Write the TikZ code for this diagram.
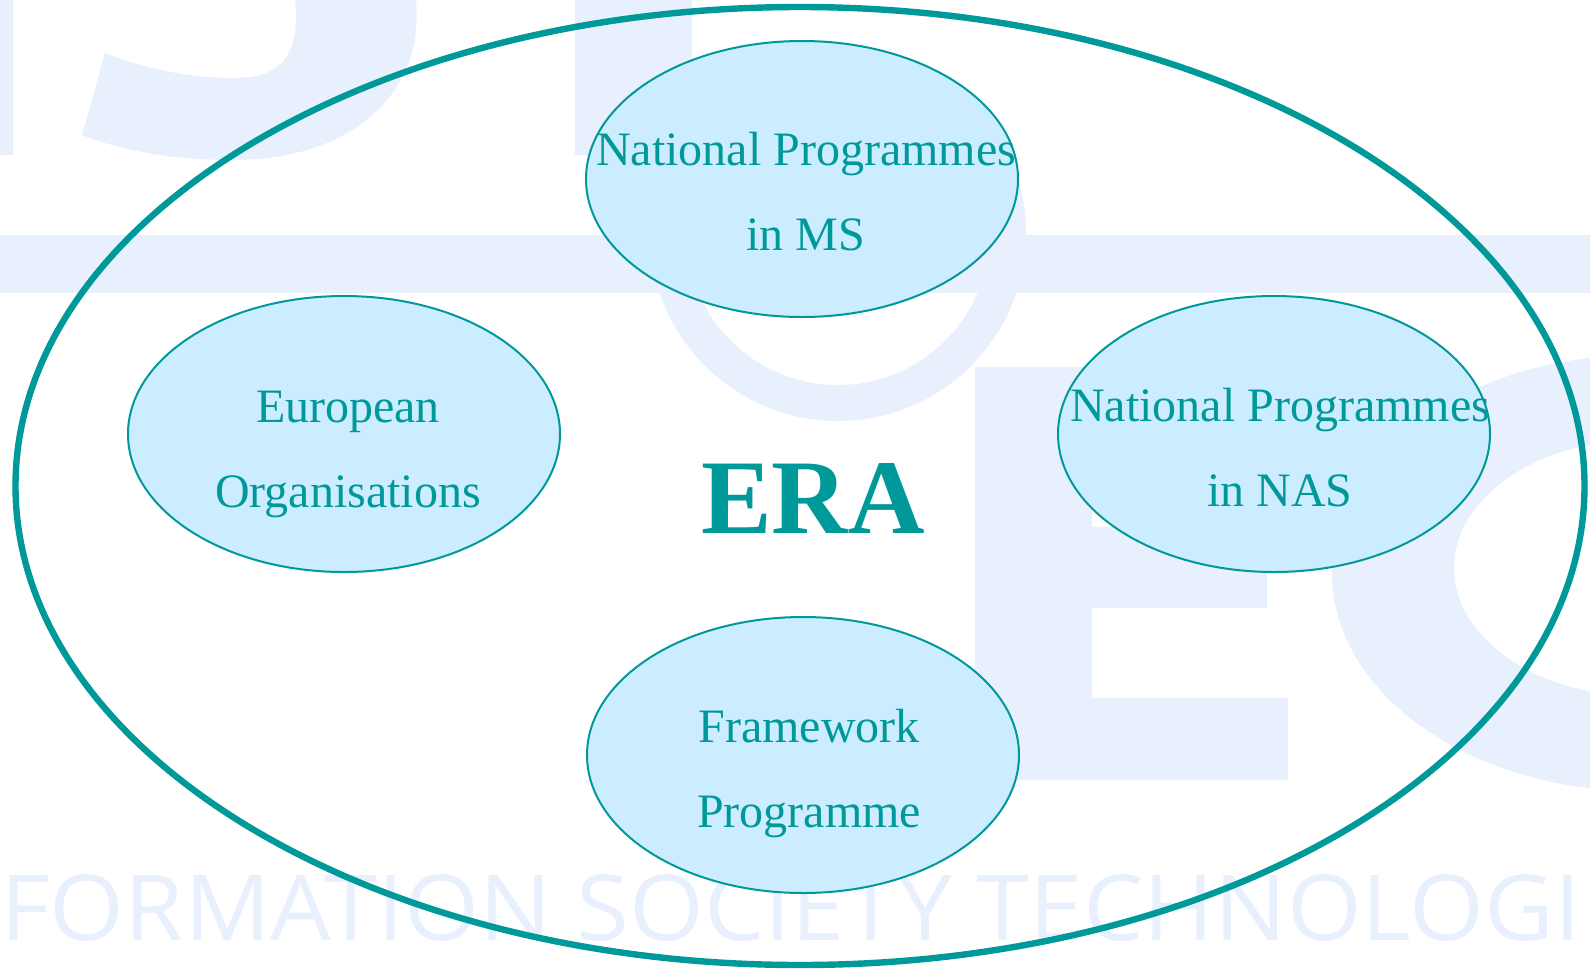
\documentclass[tikz,border=0pt]{standalone}
\usepackage{fontspec}
\setmainfont{Liberation Serif}
\newfontfamily\wmfont{Open Sans}
\usetikzlibrary{shapes.geometric}
\definecolor{eracol}{HTML}{009999}
\definecolor{blobfill}{HTML}{CCECFF}
\definecolor{wmark}{HTML}{E8F0FD}

\begin{document}
\begin{tikzpicture}[x=0.5pt,y=-0.5pt,
  blob/.style={ellipse,draw=eracol,line width=1pt,fill=blobfill,
    minimum width=216pt,minimum height=138pt,inner sep=0pt},
  txt/.style={text=eracol,align=center,font=\fontsize{24}{42.5}\selectfont},
  wm/.style={fill=wmark}]
\useasboundingbox (0,0) rectangle (1590,970);

% logo watermark behind everything
\begin{scope}
\clip (0,0) rectangle (1590,970);
\fill[wm] (-20,0) rectangle (13,155);
\fill[wm] (82,135) -- (105,53) .. controls (160,75) and (215,80) .. (250,77)
  .. controls (285,72) and (300,50) .. (295,0) -- (416,0)
  .. controls (425,95) and (350,160) .. (233,160)
  .. controls (170,160) and (120,150) .. cycle;
\fill[wm] (575,0) rectangle (692,155);
\fill[wm] (0,235) rectangle (1590,293);
\fill[wm,even odd rule] (838,233) circle (188) (838,233) circle (152);
\fill[wm] (975,367) -- (1287,367) -- (1287,450) -- (1092,450) -- (1092,527)
  -- (1267,527) -- (1267,608) -- (1092,608) -- (1092,698) -- (1288,698)
  -- (1288,780) -- (975,780) -- cycle;
\fill[wm,even odd rule] (1640,573) ellipse [x radius=308, y radius=218]
  (1640,568) ellipse [x radius=186, y radius=128];
\node[text=wmark,font=\wmfont\fontsize{45.5}{50}\selectfont,inner sep=0pt,
  anchor=base west] (ist) at (0,940)
  {\scalebox{1.055}[1]{FORMATION SOCIETY TECHNOLOGI}};
\end{scope}

\node[ellipse,draw=eracol,line width=3.2pt,minimum width=784.5pt,
  minimum height=479pt,inner sep=0pt] (area) at (800,486) {};

\node[blob] (ms) at (802,179) {};
\node[blob] (eo) at (344,434) {};
\node[blob] (nas) at (1274,434) {};
\node[blob] (fp) at (803,755) {};

\node[txt] (msText) at (806,192) {National Programmes\\in MS};
\node[txt] (eoText) at (348,454) {European\\Organisations};
\node[txt] (nasText) at (1280,448) {National Programmes\\in NAS};
\node[txt] (fpText) at (809,774) {Framework\\Programme};

\node[text=eracol,font=\bfseries\fontsize{53}{60}\selectfont,inner sep=0pt,
  anchor=base] (era) at (813,533) {ERA};
\end{tikzpicture}
\end{document}
